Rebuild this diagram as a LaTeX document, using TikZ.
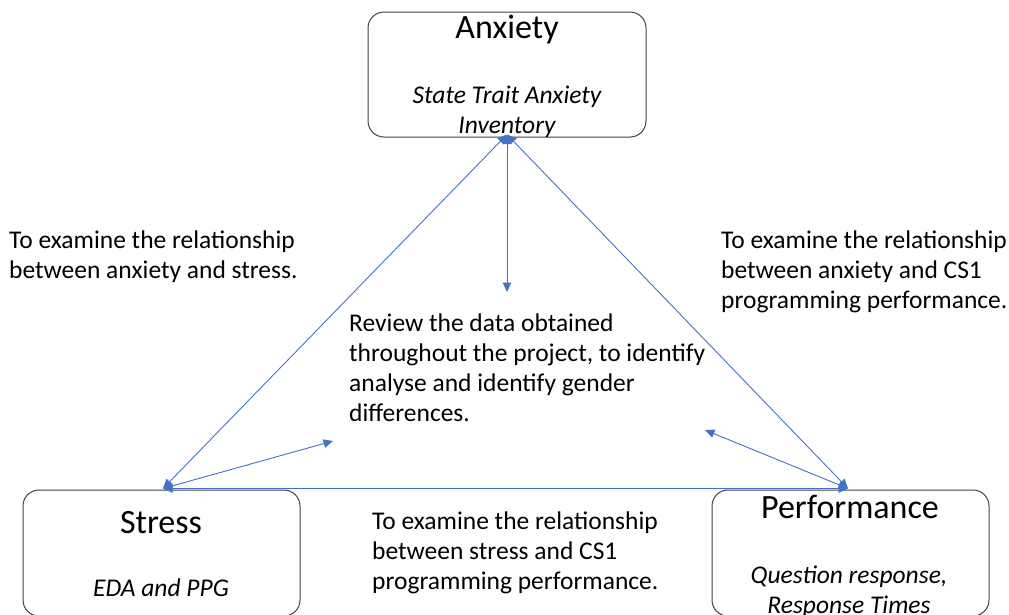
\documentclass[tikz,border=0pt]{standalone}
\usepackage{fontspec}
\setmainfont{Carlito}
\usetikzlibrary{arrows.meta}
\definecolor{linkblue}{HTML}{4472C4}
\definecolor{boxgray}{HTML}{404040}
\begin{document}
\begin{tikzpicture}[x=1pt,y=-1pt,
  box/.style={draw=boxgray, line width=1pt, rounded corners=16pt,
    minimum width=277pt, minimum height=126pt, inner sep=0pt},
  title/.style={font=\fontsize{34}{40}\selectfont, inner sep=0pt, anchor=base},
  measure/.style={font=\fontsize{25.5}{30}\selectfont\itshape, align=center, inner sep=0pt, anchor=north},
  body/.style={font=\fontsize{25.5}{30}\selectfont, align=left, inner sep=0pt, anchor=north west},
  conn/.style={draw=linkblue, line width=0.9pt,
    {Triangle[length=9.5pt,width=8.5pt]}-{Triangle[length=9.5pt,width=8.5pt]}}]
\clip (0,0) rectangle (1009,614);

% construct boxes
\node[box, minimum width=278pt, minimum height=125pt] (anx) at (507,74.5) {};
\node[box] (str) at (161.5,553) {};
\node[box] (perf) at (850.5,553) {};

% box labels
\node[title] (anxT) at (507,38) {Anxiety};
\node[measure] (anxM) at (507,86) {State Trait Anxiety\\Inventory};
\node[title] (strT) at (161,533) {Stress};
\node[measure, anchor=base] (strM) at (161,596) {EDA and PPG};
\node[title] (perfT) at (850,518) {Performance};
\node[measure] (perfM) at (849,566) {Question response,\\Response Times};

% free ends of the arrows into the centre
\coordinate (cTop) at (507,292);
\coordinate (cLeft) at (333,441);
\coordinate (cRight) at (705,430);

% anchor points on the boxes
\coordinate (aS) at ([yshift=3pt]anx.south);
\coordinate (sN) at ([xshift=1.5pt,yshift=1pt]str.north);
\coordinate (pN) at ([xshift=-2.5pt,yshift=1pt]perf.north);

% connectors
\draw[conn] (aS) -- (sN);
\draw[conn] (aS) -- (pN);
\draw[conn] (aS) -- (cTop);
\draw[conn] (sN) -- (pN);
\draw[conn] (sN) -- (cLeft);
\draw[conn] (pN) -- (cRight);

% relationship texts
\node[body] (relAS) at (9,231) {To examine the relationship\\between anxiety and stress.};
\node[body] (relAP) at (721,231) {To examine the relationship\\between anxiety and CS1\\programming performance.};
\node[body] (review) at (349,314) {Review the data obtained\\throughout the project, to identify\\analyse and identify gender\\differences.};
\node[body] (relSP) at (372,512) {To examine the relationship\\between stress and CS1\\programming performance.};
\end{tikzpicture}
\end{document}
